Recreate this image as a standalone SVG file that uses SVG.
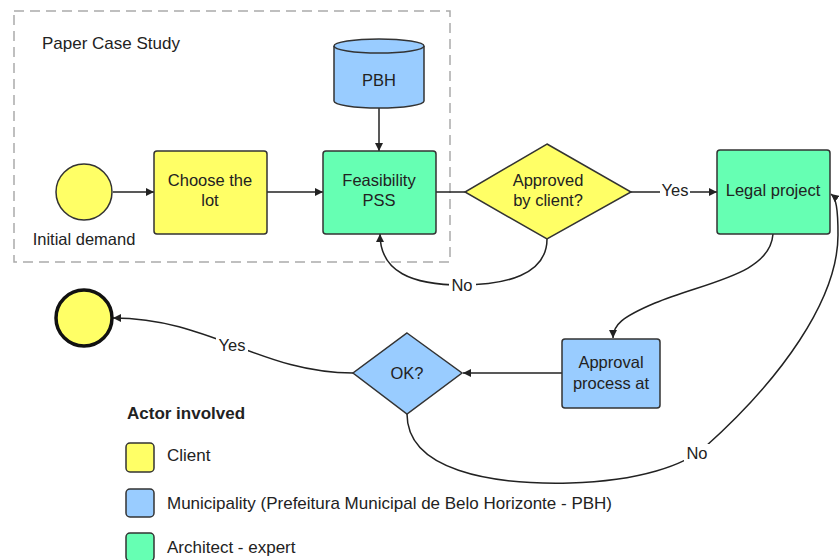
<svg xmlns="http://www.w3.org/2000/svg" width="839" height="560" viewBox="0 0 839 560">
<style>
.t{font-family:"Liberation Sans",Arial,sans-serif;font-size:16.5px;fill:#222;text-anchor:middle}
.l{font-family:"Liberation Sans",Arial,sans-serif;font-size:17px;fill:#222}
.y{fill:#ffff66;stroke:#333;stroke-width:1.5}
.b{fill:#99ccff;stroke:#333;stroke-width:1.5}
.g{fill:#66ffb3;stroke:#333;stroke-width:1.5}
.c{fill:none;stroke:#222;stroke-width:1.5}
.lab{font-family:"Liberation Sans",Arial,sans-serif;font-size:16.5px;fill:#222;text-anchor:middle}
</style>
<defs>
<marker id="ah" viewBox="0 0 10 10" refX="10" refY="5" markerWidth="8" markerHeight="8" markerUnits="userSpaceOnUse" orient="auto"><path d="M0,0 L10,5 L0,10 z" fill="#222"/></marker>
</defs>
<rect width="839" height="560" fill="#fff"/>
<g id="group-paper">
<rect x="14" y="11" width="436" height="251" fill="none" stroke="#aaa" stroke-width="1.5" stroke-dasharray="10,6"/>
<text class="l" x="42" y="49">Paper Case Study</text>
</g>
<g id="connectors">
<line class="c" x1="113" y1="192" x2="154" y2="192" marker-end="url(#ah)"/>
<line class="c" x1="267" y1="192" x2="323" y2="192" marker-end="url(#ah)"/>
<line class="c" x1="379" y1="107" x2="379" y2="151" marker-end="url(#ah)"/>
<line class="c" x1="436" y1="192" x2="465" y2="192"/>
<path class="c" d="M631,192 H717" marker-end="url(#ah)"/>
<path class="c" d="M547,239 C547,275 505,285 462,285 C412,285 380,272 380,234" marker-end="url(#ah)"/>
<path class="c" d="M773,234 C770,275 705,282 655,303 C622,317 613,325 613,338" marker-end="url(#ah)"/>
<line class="c" x1="562" y1="373" x2="463" y2="373" marker-end="url(#ah)"/>
<path class="c" d="M353,373 C260,373 210,318 113,318" marker-end="url(#ah)"/>
<path class="c" d="M407,414 C407,470 490,485 570,483 C640,481 685,465 705,447 C780,380 838,300 838,235 C838,208 836,198 831,194" marker-end="url(#ah)"/>
<rect x="660" y="181" width="30" height="18" fill="#fff"/>
<text class="lab" x="675" y="196">Yes</text>
<rect x="449" y="276" width="27" height="18" fill="#fff"/>
<text class="lab" x="462" y="291">No</text>
<rect x="216" y="336" width="32" height="18" fill="#fff"/>
<text class="lab" x="232" y="351">Yes</text>
<rect x="684" y="444" width="27" height="18" fill="#fff"/>
<text class="lab" x="697" y="459">No</text>
</g>
<g id="start">
<circle class="y" cx="84" cy="192" r="28"/>
<text class="t" x="84" y="245">Initial demand</text>
</g>
<g id="choose-lot">
<rect class="y" x="154" y="151" width="113" height="83" rx="3"/>
<text class="t" x="210" y="186">Choose the</text>
<text class="t" x="210" y="206">lot</text>
</g>
<g id="pbh">
<path class="b" d="M334,46 V101 A45,7 0 0 0 424,101 V46"/>
<ellipse class="b" cx="379" cy="46" rx="45" ry="7"/>
<text class="t" x="379" y="86">PBH</text>
</g>
<g id="feasibility">
<rect class="g" x="323" y="151" width="113" height="83" rx="3"/>
<text class="t" x="379" y="186">Feasibility</text>
<text class="t" x="379" y="206">PSS</text>
</g>
<g id="approved">
<polygon class="y" points="547,144 631,192 547,239 465,192"/>
<text class="t" x="548" y="186">Approved</text>
<text class="t" x="548" y="206">by client?</text>
</g>
<g id="legal">
<rect class="g" x="717" y="150" width="113" height="84" rx="3"/>
<text class="t" x="773" y="196">Legal project</text>
</g>
<g id="approval">
<rect class="b" x="562" y="339" width="98" height="69" rx="3"/>
<text class="t" x="611" y="368">Approval</text>
<text class="t" x="611" y="389">process at</text>
</g>
<g id="ok">
<polygon class="b" points="407,333 462,373 407,414 353,373"/>
<text class="t" x="407" y="379">OK?</text>
</g>
<g id="end">
<circle cx="84" cy="318" r="28" fill="#ffff66" stroke="#111" stroke-width="3.5"/>
</g>
<g id="legend">
<text class="l" x="127" y="419" font-weight="bold">Actor involved</text>
<rect class="y" x="126" y="443" width="28" height="29" rx="4"/>
<text class="l" x="167" y="461">Client</text>
<rect class="b" x="126" y="489" width="28" height="28" rx="4"/>
<text class="l" x="167" y="509">Municipality (Prefeitura Municipal de Belo Horizonte - PBH)</text>
<rect class="g" x="126" y="533" width="28" height="28" rx="4"/>
<text class="l" x="167" y="553">Architect - expert</text>
</g>
</svg>
